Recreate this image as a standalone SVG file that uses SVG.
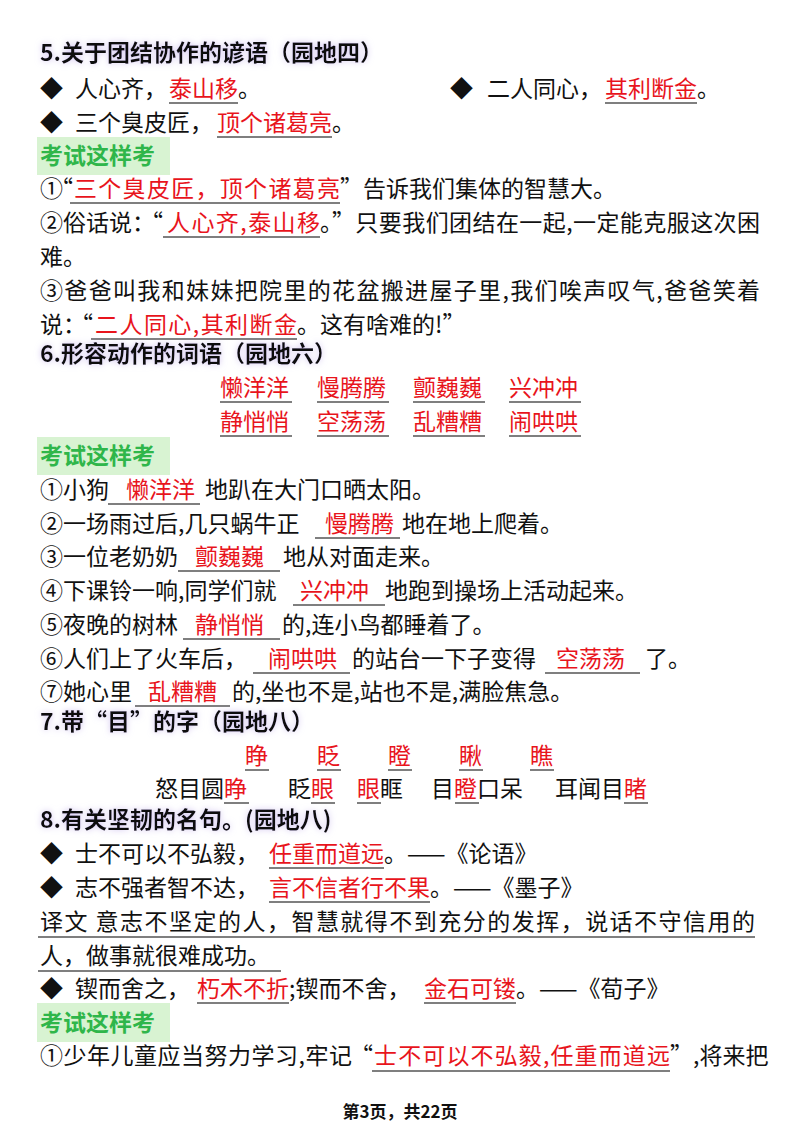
<svg xmlns="http://www.w3.org/2000/svg" width="800" height="1132" viewBox="0 0 800 1132">
<style>
text{font-family:"Noto Sans CJK SC","Noto Sans",sans-serif;font-size:23px;fill:#111}
.h{font-weight:bold;font-size:23px}
.r{fill:#e8141c}
.g{fill:#2fb64a;font-weight:bold}
.u{stroke:#555;stroke-width:1.6}
.gb{fill:#d8f3d2}
.ft{font-size:17px;font-weight:bold}
</style>
<defs>
<filter id="glow" x="-10%" y="-40%" width="120%" height="180%">
<feGaussianBlur in="SourceAlpha" stdDeviation="3" result="b"/>
<feFlood flood-color="#b9a6e8" flood-opacity="0.7"/>
<feComposite in2="b" operator="in"/>
<feMerge><feMergeNode/><feMergeNode in="SourceGraphic"/></feMerge>
</filter>
</defs>
<rect width="800" height="1132" fill="#fff"/>

<g id="sec5">
<text class="h" x="40" y="61" filter="url(#glow)">5.关于团结协作的谚语（园地四）</text>
<text x="40" y="97">◆</text><text x="75" y="97">人心齐，<tspan class="r" x="169">泰山移</tspan><tspan>。</tspan></text>
<line class="u" x1="169" y1="103" x2="238" y2="103"/>
<text x="450" y="97">◆</text><text x="487" y="97">二人同心，<tspan class="r" x="605">其利断金</tspan><tspan>。</tspan></text>
<line class="u" x1="605" y1="103" x2="697" y2="103"/>
<text x="40" y="131">◆</text><text x="75" y="131">三个臭皮匠，<tspan class="r" x="217">顶个诸葛亮</tspan><tspan>。</tspan></text>
<line class="u" x1="217" y1="137" x2="332" y2="137"/>
<rect class="gb" x="37" y="137" width="133" height="38"/>
<text class="g" x="40" y="164">考试这样考</text>
<text x="40" y="197">①</text><text x="50" y="197">“</text>
<text class="r" x="74" y="197" textLength="266">三个臭皮匠，顶个诸葛亮</text>
<text x="340" y="197">”告诉我们集体的智慧大。</text>
<line class="u" x1="70" y1="203" x2="340" y2="203"/>
<text x="40" y="231">②俗话说：</text><text x="140" y="231">“</text>
<text class="r" x="167" y="231" textLength="153">人心齐,泰山移</text>
<text x="320" y="231" textLength="440">。”只要我们团结在一起,一定能克服这次困</text>
<line class="u" x1="163" y1="237" x2="320" y2="237"/>
<text x="40" y="265">难。</text>
<text x="40" y="299" textLength="720">③爸爸叫我和妹妹把院里的花盆搬进屋子里,我们唉声叹气,爸爸笑着</text>
<text x="40" y="333">说：</text><text x="70" y="333">“</text>
<text class="r" x="95" y="333" textLength="202">二人同心,其利断金</text>
<text x="297" y="333">。这有啥难的!”</text>
<line class="u" x1="91" y1="339" x2="297" y2="339"/>
</g>

<g id="sec6">
<text class="h" x="40" y="362" filter="url(#glow)">6.形容动作的词语（园地六）</text>
<text class="r" x="220" y="396">懒洋洋</text><text class="r" x="317" y="396">慢腾腾</text><text class="r" x="413" y="396">颤巍巍</text><text class="r" x="509" y="396">兴冲冲</text>
<text class="r" x="220" y="430">静悄悄</text><text class="r" x="317" y="430">空荡荡</text><text class="r" x="413" y="430">乱糟糟</text><text class="r" x="509" y="430">闹哄哄</text>
<path class="u" d="M220 402H292M317 402H389M413 402H485M509 402H581M220 436H292M317 436H389M413 436H485M509 436H581"/>
<rect class="gb" x="37" y="437" width="133" height="38"/>
<text class="g" x="40" y="464">考试这样考</text>
<text x="40" y="498">①小狗<tspan class="r" x="126">懒洋洋</tspan><tspan x="205">地趴在大门口晒太阳。</tspan></text>
<text x="40" y="532">②一场雨过后,几只蜗牛正<tspan class="r" x="325">慢腾腾</tspan><tspan x="402">地在地上爬着。</tspan></text>
<text x="40" y="565">③一位老奶奶<tspan class="r" x="195">颤巍巍</tspan><tspan x="283">地从对面走来。</tspan></text>
<text x="40" y="599">④下课铃一响,同学们就<tspan class="r" x="300">兴冲冲</tspan><tspan x="385">地跑到操场上活动起来。</tspan></text>
<text x="40" y="633">⑤夜晚的树林<tspan class="r" x="195">静悄悄</tspan><tspan x="282">的,连小鸟都睡着了。</tspan></text>
<text x="40" y="667">⑥人们上了火车后，<tspan class="r" x="268">闹哄哄</tspan><tspan x="352">的站台一下子变得</tspan><tspan class="r" x="556">空荡荡</tspan><tspan x="645">了。</tspan></text>
<text x="40" y="700">⑦她心里<tspan class="r" x="148">乱糟糟</tspan><tspan x="232">的,坐也不是,站也不是,满脸焦急。</tspan></text>
<path class="u" d="M108 504H200M315 538H400M178 571H280M293 605H385M183 639H280M253 673H350M545 673H640M135 706H230"/>
</g>

<g id="sec7">
<text class="h" x="40" y="730" filter="url(#glow)">7.带“目”的字（园地八）</text>
<text class="r" x="245" y="764">睁</text><text class="r" x="317" y="764">眨</text><text class="r" x="388" y="764">瞪</text><text class="r" x="459" y="764">瞅</text><text class="r" x="530" y="764">瞧</text>
<path class="u" d="M245 770H269M317 770H341M388 770H412M459 770H483M530 770H554"/>
<text x="155" y="797">怒目圆<tspan class="r">睁</tspan><tspan x="288">眨</tspan><tspan class="r">眼</tspan><tspan class="r" x="357">眼</tspan><tspan>眶</tspan><tspan x="431">目</tspan><tspan class="r">瞪</tspan><tspan>口呆</tspan><tspan x="555">耳闻目</tspan><tspan class="r">睹</tspan></text>
<path class="u" d="M224 803H249M311 803H335M357 803H381M455 803H479M624 803H648"/>
</g>

<g id="sec8">
<text class="h" x="40" y="828" filter="url(#glow)">8.有关坚韧的名句。(园地八)</text>
<text x="40" y="862">◆</text><text x="75" y="862">士不可以不弘毅，<tspan class="r" x="269">任重而道远</tspan><tspan>。——《论语》</tspan></text>
<line class="u" x1="269" y1="868" x2="384" y2="868"/>
<text x="40" y="896">◆</text><text x="75" y="896">志不强者智不达，<tspan class="r" x="269">言不信者行不果</tspan><tspan>。——《墨子》</tspan></text>
<line class="u" x1="269" y1="902" x2="430" y2="902"/>
<text x="40" y="930" textLength="715">译文 意志不坚定的人，智慧就得不到充分的发挥，说话不守信用的</text>
<line class="u" x1="38" y1="937" x2="755" y2="937"/>
<text x="40" y="964">人，做事就很难成功。</text>
<line class="u" x1="38" y1="971" x2="281" y2="971"/>
<text x="40" y="997">◆</text><text x="75" y="997">锲而舍之，<tspan class="r" x="197">朽木不折</tspan><tspan>;锲而不舍，</tspan><tspan class="r" x="424">金石可镂</tspan><tspan>。——《荀子》</tspan></text>
<path class="u" d="M197 1003H289M424 1003H516"/>
<rect class="gb" x="37" y="1003" width="133" height="39"/>
<text class="g" x="40" y="1031">考试这样考</text>
<text x="40" y="1064" textLength="312">①少年儿童应当努力学习,牢记</text><text x="350" y="1064">“</text>
<text class="r" x="374" y="1064" textLength="296">士不可以不弘毅,任重而道远</text>
<text x="670" y="1064">”,将来把</text>
<line class="u" x1="372" y1="1071" x2="670" y2="1071"/>
</g>

<text class="ft" x="400" y="1118" text-anchor="middle">第3页，共22页</text>
</svg>
